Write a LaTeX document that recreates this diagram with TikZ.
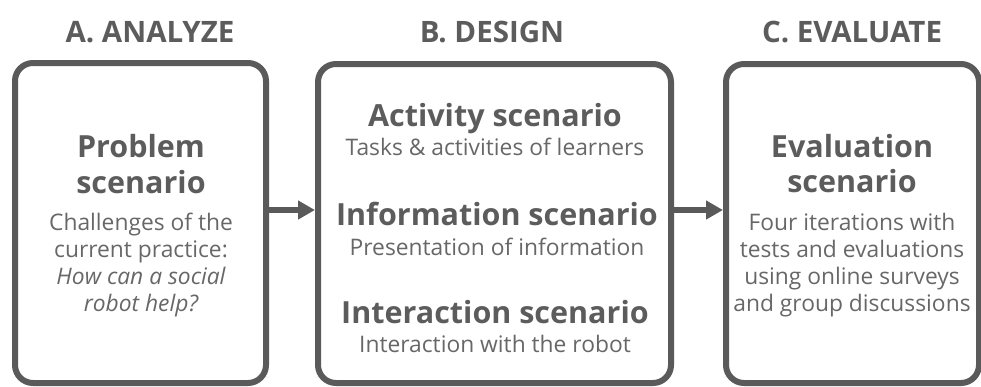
\documentclass[tikz,border=0pt]{standalone}
\usepackage{fontspec}
\setmainfont{Open Sans}
\usetikzlibrary{arrows.meta}
\definecolor{frame}{HTML}{5A5A5A}
\definecolor{ink}{HTML}{5C5C5C}
\definecolor{soft}{HTML}{676767}
\tikzset{
  phase/.style={draw=frame, line width=6pt, rounded corners=18pt, inner sep=0pt},
  heading/.style={anchor=base, text=ink, font=\fontsize{29.5}{32}\selectfont\bfseries, inner sep=0pt},
  title/.style={anchor=base, text=ink, font=\fontsize{30.5}{34}\selectfont\bfseries, inner sep=0pt},
  body/.style={anchor=base, text=soft, font=\fontsize{22.8}{26}\selectfont, inner sep=0pt},
  flow/.style={draw=frame, line width=6pt, -{Triangle[length=17pt,width=18pt]}}
}
\begin{document}
\begin{tikzpicture}[x=1pt,y=-1pt]
\useasboundingbox (0,0) rectangle (981,386);

% three phase frames
\draw[phase] (15,63) rectangle (266,383);
\node[inner sep=0pt, outer sep=0pt, minimum width=257pt, minimum height=326pt] (A) at (140.5,223) {};
\draw[phase] (318,64) rectangle (671,383);
\node[inner sep=0pt, outer sep=0pt, minimum width=359pt, minimum height=325pt] (B) at (494.5,223.5) {};
\draw[phase] (726,64) rectangle (979,383);
\node[inner sep=0pt, outer sep=0pt, minimum width=259pt, minimum height=325pt] (C) at (852.5,223.5) {};

% phase headings
\node[heading] (hA) at (150,42) {A. ANALYZE};
\node[heading] (hB) at (492,42) {B. DESIGN};
\node[heading] (hC) at (852,42) {C. EVALUATE};

% A: problem scenario
\node[title] (a1) at (141,157) {Problem};
\node[title] (a2) at (141,193) {scenario};
\node[body] (a3) at (141,230) {Challenges of the};
\node[body] (a4) at (141,257) {current practice:};
\node[body] (a5) at (141,284) {\itshape How can a social};
\node[body] (a6) at (141,311) {\itshape robot help?};

% B: design scenarios
\node[title] (b1) at (495,126) {Activity scenario};
\node[body]  (b2) at (495,155) {Tasks \& activities of learners};
\node[title] (b3) at (497,225) {Information scenario};
\node[body]  (b4) at (497,255) {Presentation of information};
\node[title] (b5) at (495,323) {Interaction scenario};
\node[body]  (b6) at (495,352) {Interaction with the robot};

% C: evaluation scenario
\node[title] (c1) at (852,157) {Evaluation};
\node[title] (c2) at (852,192) {scenario};
\node[body] (c3) at (852,230) {Four iterations with};
\node[body] (c4) at (852,257) {tests and evaluations};
\node[body] (c5) at (852,284) {using online surveys};
\node[body] (c6) at (852,311) {and group discussions};

% flow between phases
\coordinate (row) at (0,210);
\draw[flow] (A.east |- row) -- (B.west |- row);
\draw[flow] (B.east |- row) -- (C.west |- row);
\end{tikzpicture}
\end{document}
